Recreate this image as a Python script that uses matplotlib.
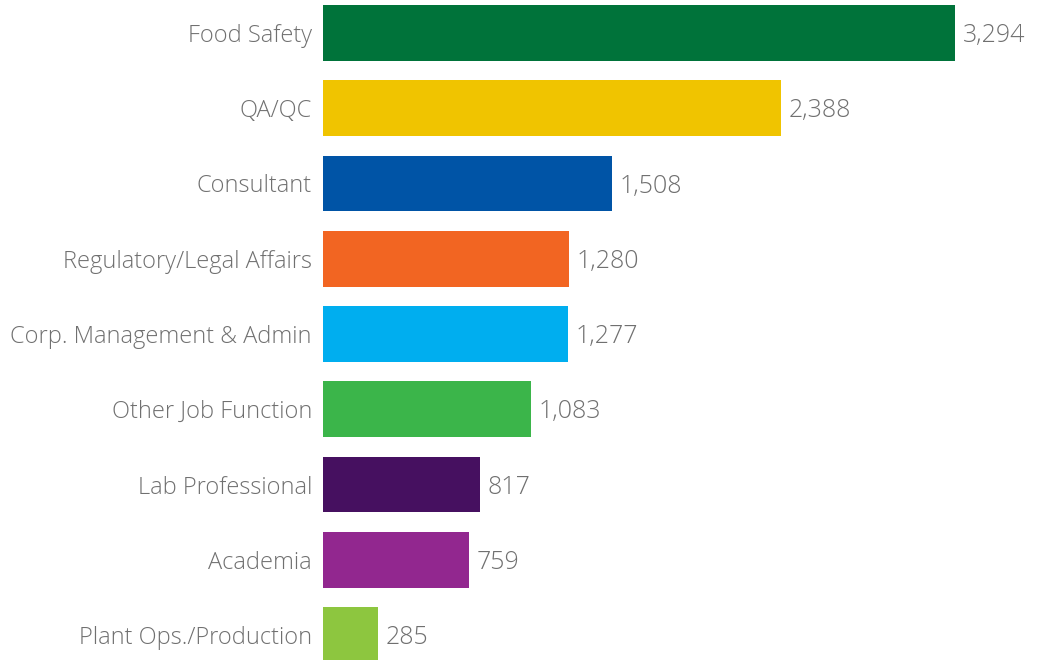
import matplotlib.pyplot as plt
import matplotlib.transforms as mtransforms

# Job function counts
categories = ['Food Safety', 'QA/QC', 'Consultant', 'Regulatory/Legal Affairs',
              'Corp. Management & Admin', 'Other Job Function', 'Lab Professional',
              'Academia', 'Plant Ops./Production']
values = [3294, 2388, 1508, 1280, 1277, 1083, 817, 759, 285]
colors = ['#00733a', '#f0c400', '#0054a6', '#f26522', '#00aeef', '#3bb54a',
          '#461060', '#92278f', '#8dc63f']

plt.rcParams['font.family'] = ['Open Sans', 'DejaVu Sans']
text_color = '#707070'

fig = plt.figure(figsize=(10.47, 6.6), dpi=100)
ax = fig.add_axes([323 / 1047, 0, 1 - 323 / 1047, 1])

# shift text down a couple of pixels like the original
down = mtransforms.ScaledTranslation(0, -2.5 / 100, fig.dpi_scale_trans)

y = list(range(len(categories)))
ax.barh(y, values, height=0.744, color=colors)

for yi, v in zip(y, values):
    ax.text(v + 40, yi, f'{v:,}', va='center', ha='left', fontsize=18,
            color=text_color, fontweight='light', transform=ax.transData + down)

ax.set_yticks(y)
ax.set_yticklabels(categories, fontsize=17, color=text_color, fontweight='light')
for lab in ax.get_yticklabels():
    lab.set_transform(lab.get_transform() + down)
ax.tick_params(axis='y', length=0, pad=8)
ax.set_xticks([])
ax.set_xlim(0, 724 / (632 / 3294))
ax.set_ylim(8 + 25 / 75.25, -33 / 75.25)
for s in ax.spines.values():
    s.set_visible(False)

fig.savefig('out.png', dpi=100)
